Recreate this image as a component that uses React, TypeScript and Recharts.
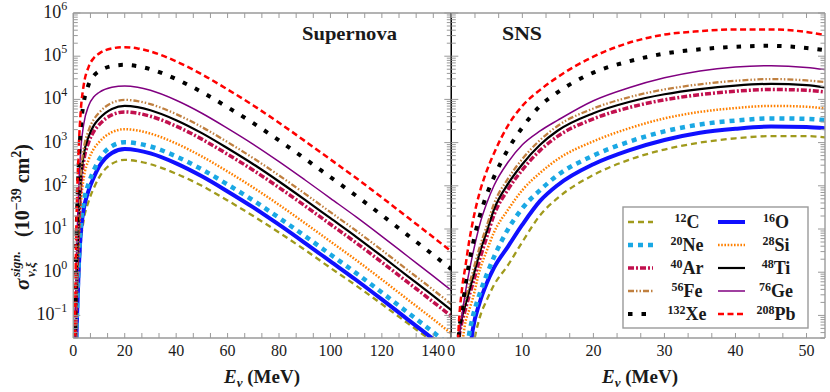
import React from "react";
import { LineChart, Line, XAxis, YAxis } from "recharts";

// ---------- Supernova panel: energies (MeV) and log10(sigma / 1e-39 cm^2) ----------
const SN_E = [0.5, 1, 1.5, 2, 3, 4, 6, 8, 10, 15, 20, 25, 30, 40, 50, 60, 70, 80, 90, 100, 110, 120, 130, 140, 147];
const SN_C = [-5.4, -2.4, -1.2, -0.35, 0.73, 1.19, 1.65, 1.95, 2.19, 2.51, 2.6, 2.57, 2.5, 2.28, 2.0, 1.66, 1.3, 0.92, 0.52, 0.1, -0.31, -0.74, -1.18, -1.62, -1.94];
const SN_O = [-5.15, -2.15, -0.95, -0.1, 0.98, 1.44, 1.9, 2.2, 2.44, 2.76, 2.85, 2.82, 2.75, 2.52, 2.22, 1.87, 1.5, 1.1, 0.68, 0.25, -0.18, -0.63, -1.09, -1.55, -1.88];
const SN_NE = [-4.99, -1.99, -0.79, 0.06, 1.14, 1.6, 2.06, 2.36, 2.6, 2.92, 3.01, 2.98, 2.91, 2.68, 2.38, 2.03, 1.66, 1.26, 0.84, 0.41, -0.02, -0.47, -0.93, -1.39, -1.72];
const SN_SI = [-4.69, -1.59, -0.29, 0.56, 1.66, 2.16, 2.61, 2.86, 3.01, 3.24, 3.31, 3.28, 3.21, 2.98, 2.68, 2.33, 1.96, 1.56, 1.14, 0.71, 0.28, -0.17, -0.63, -1.09, -1.42];
const SN_AR = [-4.29, -1.19, 0.11, 0.96, 2.06, 2.56, 3.01, 3.26, 3.41, 3.64, 3.71, 3.68, 3.61, 3.38, 3.08, 2.73, 2.36, 1.96, 1.54, 1.11, 0.68, 0.23, -0.23, -0.69, -1.02];
const SN_TI = [-4.15, -1.05, 0.25, 1.1, 2.2, 2.7, 3.15, 3.4, 3.55, 3.78, 3.85, 3.82, 3.75, 3.52, 3.22, 2.87, 2.5, 2.1, 1.68, 1.25, 0.82, 0.37, -0.09, -0.55, -0.88];
const SN_FE = [-4.01, -0.91, 0.39, 1.24, 2.34, 2.84, 3.29, 3.54, 3.69, 3.92, 3.99, 3.96, 3.89, 3.66, 3.36, 3.01, 2.64, 2.24, 1.82, 1.39, 0.96, 0.51, 0.05, -0.41, -0.74];
const SN_GE = [-3.69, -0.49, 0.91, 1.81, 2.91, 3.41, 3.86, 4.06, 4.16, 4.28, 4.31, 4.28, 4.21, 3.98, 3.68, 3.33, 2.96, 2.56, 2.14, 1.71, 1.28, 0.83, 0.37, -0.09, -0.42];
const SN_XE = [-3.2, 0.0, 1.4, 2.3, 3.4, 3.9, 4.35, 4.55, 4.65, 4.77, 4.8, 4.77, 4.7, 4.47, 4.17, 3.82, 3.45, 3.05, 2.63, 2.2, 1.77, 1.32, 0.86, 0.4, 0.07];
const SN_PB = [-2.79, 0.41, 1.81, 2.71, 3.81, 4.31, 4.76, 4.96, 5.06, 5.18, 5.21, 5.18, 5.11, 4.88, 4.58, 4.23, 3.86, 3.46, 3.04, 2.61, 2.18, 1.73, 1.27, 0.81, 0.48];

// ---------- SNS panel ----------
const SNS_E = [0.5, 1, 1.5, 2, 2.5, 3, 4, 5, 6, 8, 10, 12.5, 15, 20, 25, 30, 35, 40, 45, 50, 52.6];
const SNS_C = [-4, -3.9, -3.5, -3.0, -2.4, -1.8, -1.05, -0.64, -0.3, 0.17, 0.7, 1.32, 1.72, 2.25, 2.6, 2.84, 3.0, 3.1, 3.15, 3.15, 3.12];
const SNS_O = [-4, -3.7, -3.2, -2.6, -2.0, -1.35, -0.7, -0.25, 0.1, 0.6, 1.1, 1.65, 2.02, 2.5, 2.82, 3.06, 3.23, 3.32, 3.37, 3.36, 3.33];
const SNS_NE = [-4, -3.5, -2.8, -2.1, -1.45, -1.05, -0.5, -0.05, 0.35, 1.0, 1.48, 1.9, 2.25, 2.7, 3.02, 3.26, 3.42, 3.51, 3.56, 3.55, 3.52];
const SNS_SI = [-4, -2.4, -1.7, -1.15, -0.88, -0.62, 0.05, 0.5, 0.92, 1.45, 1.9, 2.3, 2.62, 3.03, 3.33, 3.56, 3.71, 3.8, 3.85, 3.83, 3.79];
const SNS_AR = [-4, -1.7, -1.15, -0.85, -0.55, -0.28, 0.3, 0.82, 1.32, 1.92, 2.37, 2.82, 3.15, 3.55, 3.81, 3.99, 4.11, 4.19, 4.23, 4.21, 4.17];
const SNS_TI = [-4, -1.6, -1.05, -0.75, -0.45, -0.15, 0.45, 0.95, 1.45, 2.05, 2.5, 2.95, 3.28, 3.68, 3.94, 4.12, 4.24, 4.32, 4.36, 4.33, 4.28];
const SNS_FE = [-4, -1.5, -0.95, -0.6, -0.3, 0.0, 0.58, 1.08, 1.58, 2.17, 2.62, 3.06, 3.39, 3.79, 4.05, 4.23, 4.35, 4.43, 4.47, 4.44, 4.4];
const SNS_GE = [-4, -1.7, -1.0, -0.45, 0.0, 0.4, 1.1, 1.6, 2.0, 2.55, 2.95, 3.27, 3.52, 3.97, 4.27, 4.5, 4.66, 4.75, 4.78, 4.74, 4.69];
const SNS_XE = [-4, -1.6, -0.9, -0.3, 0.2, 0.62, 1.3, 1.8, 2.2, 2.85, 3.35, 3.85, 4.17, 4.62, 4.88, 5.06, 5.16, 5.22, 5.24, 5.19, 5.14];
const SNS_PB = [-4, -1.4, -0.4, 0.15, 0.7, 1.15, 1.85, 2.35, 2.75, 3.4, 3.85, 4.22, 4.52, 4.99, 5.31, 5.5, 5.58, 5.62, 5.62, 5.56, 5.49];

// ---------- Axis ticks ----------
const Y_MAJOR = [0.1, 1, 10, 100, 1000, 1e4, 1e5, 1e6];
const Y_DECADES = [0.01, 0.1, 1, 10, 100, 1000, 1e4, 1e5];
const Y_MULT = [2, 3, 4, 5, 6, 7, 8, 9];
const SN_XTICKS = [0, 20, 40, 60, 80, 100, 120, 140];
const SNS_XTICKS = [0, 10, 20, 30, 40, 50];

const Y_DOMAIN: [number, number] = [0.03, 1e6];
const SN_DOMAIN: [number, number] = [0, 147];
const SNS_DOMAIN: [number, number] = [0, 52.6];

const SERIES = [
  { key: "C", mass: "12", sym: "C", color: "#a09a1c", width: 2.3, dash: "6 4", sn: SN_C, sns: SNS_C },
  { key: "O", mass: "16", sym: "O", color: "#1010ff", width: 4, dash: undefined, sn: SN_O, sns: SNS_O },
  { key: "Ne", mass: "20", sym: "Ne", color: "#1aa8e4", width: 4.5, dash: "5 5", sn: SN_NE, sns: SNS_NE },
  { key: "Si", mass: "28", sym: "Si", color: "#ff8000", width: 2.5, dash: "1.6 1.6", sn: SN_SI, sns: SNS_SI },
  { key: "Ar", mass: "40", sym: "Ar", color: "#c2104e", width: 3.5, dash: "6 2 2 2", sn: SN_AR, sns: SNS_AR },
  { key: "Ti", mass: "48", sym: "Ti", color: "#000000", width: 2.2, dash: undefined, sn: SN_TI, sns: SNS_TI },
  { key: "Fe", mass: "56", sym: "Fe", color: "#c08040", width: 2.3, dash: "6 2 1.5 2 1.5 2", sn: SN_FE, sns: SNS_FE },
  { key: "Ge", mass: "76", sym: "Ge", color: "#800080", width: 1.5, dash: undefined, sn: SN_GE, sns: SNS_GE },
  { key: "Xe", mass: "132", sym: "Xe", color: "#000000", width: 4, dash: "4.5 9", sn: SN_XE, sns: SNS_XE },
  { key: "Pb", mass: "208", sym: "Pb", color: "#ff0000", width: 2.5, dash: "6 3.5", sn: SN_PB, sns: SNS_PB },
];

const snData = SN_E.map((e, i) => {
  const row: any = { E: e };
  SERIES.forEach((s) => (row[s.key] = Math.pow(10, s.sn[i])));
  return row;
});
const snsData = SNS_E.map((e, i) => {
  const row: any = { E: e };
  SERIES.forEach((s) => (row[s.key] = Math.pow(10, s.sns[i])));
  return row;
});

const yTicks: number[] = [];
Y_DECADES.forEach((d) => Y_MULT.forEach((m) => yTicks.push(d * m)));
Y_MAJOR.forEach((v) => yTicks.push(v));
const yTickList = yTicks.filter((v) => v >= Y_DOMAIN[0] - 1e-9 && v <= Y_DOMAIN[1] * 1.0001).sort((a, b) => a - b);

function withThirds(majors: number[], maxV: number) {
  const out: number[] = [];
  for (let i = 0; i < majors.length; i++) {
    out.push(majors[i]);
    const step = majors.length > 1 ? majors[1] - majors[0] : 0;
    for (let k = 1; k <= 2; k++) {
      const v = majors[i] + (step * k) / 3;
      if (v <= maxV) out.push(v);
    }
  }
  return out;
}
const snXTicks = withThirds(SN_XTICKS, SN_DOMAIN[1]);
const snsXTicks = withThirds(SNS_XTICKS, SNS_DOMAIN[1]);

const SERIF = "Liberation Serif";
const GRAY = "#9a9a9a";
const INK = "#1a1a1a";

const isMajorLog = (v: number) => {
  const e = Math.log10(v);
  return Math.abs(e - Math.round(e)) < 1e-6;
};

const makeYTick = (dir: 1 | -1, labels: boolean) => (props: any) => {
  const { x, y, payload } = props;
  const v = payload.value;
  const major = isMajorLog(v);
  const len = major ? 7 : 4.5;
  const ex = Math.round(Math.log10(v));
  return (
    <g>
      <line x1={x} x2={x + dir * len} y1={y} y2={y} stroke={GRAY} strokeWidth={1} />
      {labels && major && (
        <text x={x - 6} y={y + 5} textAnchor="end" style={{ fontFamily: SERIF, fontSize: 18 }} fill={INK}>
          10
          <tspan dy={-8} style={{ fontSize: 12 }}>
            {ex < 0 ? "\u2212" + Math.abs(ex) : String(ex)}
          </tspan>
        </text>
      )}
    </g>
  );
};

const makeXTick = (majors: number[], top: boolean) => (props: any) => {
  const { x, y, payload } = props;
  const v = payload.value;
  const major = majors.some((m) => Math.abs(m - v) < 1e-6);
  return (
    <g>
      <line x1={x} x2={x} y1={y} y2={top ? y + 5 : y - 5} stroke={GRAY} strokeWidth={1} />
      {!top && major && (
        <text x={x} y={y + 18} textAnchor="middle" style={{ fontFamily: SERIF, fontSize: 16 }} fill={INK}>
          {Math.round(v)}
        </text>
      )}
    </g>
  );
};

function renderLines() {
  return SERIES.map((s) => (
    <Line
      key={s.key}
      dataKey={s.key}
      type="monotone"
      stroke={s.color}
      strokeWidth={s.width}
      strokeDasharray={s.dash}
      dot={false}
      activeDot={false}
      isAnimationActive={false}
      xAxisId="b"
      yAxisId="l"
    />
  ));
}

function Panel(props: {
  data: any[];
  domain: [number, number];
  xTicks: number[];
  majors: number[];
  margin: any;
  leftWidth: number;
  leftLabels: boolean;
  leftLine: any;
  rightLine: any;
}) {
  const { data, domain, xTicks, majors, margin, leftWidth, leftLabels, leftLine, rightLine } = props;
  return (
    <LineChart width={830} height={392} data={data} margin={margin} style={{ position: "absolute", left: 0, top: 0 }}>
      <XAxis
        xAxisId="b"
        dataKey="E"
        type="number"
        domain={domain}
        allowDataOverflow
        ticks={xTicks}
        interval={0}
        tickSize={0}
        tickMargin={0}
        height={1}
        axisLine={{ stroke: GRAY, strokeWidth: 1.4 }}
        tickLine={false}
        tick={makeXTick(majors, false)}
      />
      <XAxis
        xAxisId="t"
        orientation="top"
        dataKey="E"
        type="number"
        domain={domain}
        allowDataOverflow
        ticks={xTicks}
        interval={0}
        tickSize={0}
        tickMargin={0}
        height={1}
        axisLine={{ stroke: GRAY, strokeWidth: 1.4 }}
        tickLine={false}
        tick={makeXTick(majors, true)}
      />
      <YAxis
        yAxisId="l"
        scale="log"
        type="number"
        domain={Y_DOMAIN}
        allowDataOverflow
        ticks={yTickList}
        interval={0}
        tickSize={0}
        tickMargin={0}
        width={leftWidth}
        axisLine={leftLine}
        tickLine={false}
        tick={makeYTick(1, leftLabels)}
      />
      <YAxis
        yAxisId="r"
        orientation="right"
        scale="log"
        type="number"
        domain={Y_DOMAIN}
        allowDataOverflow
        ticks={yTickList}
        interval={0}
        tickSize={0}
        tickMargin={0}
        width={1}
        axisLine={rightLine}
        tickLine={false}
        tick={makeYTick(-1, false)}
      />
      {renderLines()}
    </LineChart>
  );
}

function LegendSample({ s, x1, x2, y }: any) {
  return <line x1={x1} x2={x2} y1={y} y2={y} stroke={s.color} strokeWidth={s.width} strokeDasharray={s.dash} />;
}

const boldText = { fontFamily: SERIF, fontWeight: 700 } as const;

export default function App() {
  const rows = [0, 1, 2, 3, 4];
  return (
    <div style={{ position: "absolute", left: 0, top: 0, width: 830, height: 392, background: "#fff" }}>
      <Panel
        data={snData}
        domain={SN_DOMAIN}
        xTicks={snXTicks}
        majors={SN_XTICKS}
        margin={{ top: 12, bottom: 53, left: 13.3, right: 377.7 }}
        leftWidth={60}
        leftLabels={true}
        leftLine={{ stroke: GRAY, strokeWidth: 1.4 }}
        rightLine={{ stroke: "#000", strokeWidth: 1.2 }}
      />
      <Panel
        data={snsData}
        domain={SNS_DOMAIN}
        xTicks={snsXTicks}
        majors={SNS_XTICKS}
        margin={{ top: 12, bottom: 53, left: 450.3, right: 4 }}
        leftWidth={1}
        leftLabels={false}
        leftLine={{ stroke: "#000", strokeWidth: 1.2 }}
        rightLine={{ stroke: GRAY, strokeWidth: 1.4 }}
      />
      <svg width={830} height={392} style={{ position: "absolute", left: 0, top: 0 }}>
        {/* panel labels */}
        <text x={302} y={40} style={{ ...boldText, fontSize: 19 }} textLength={95} lengthAdjust="spacingAndGlyphs" fill={INK}>
          Supernova
        </text>
        <text x={502} y={40} style={{ ...boldText, fontSize: 19 }} textLength={40} lengthAdjust="spacingAndGlyphs" fill={INK}>
          SNS
        </text>
        {/* x axis titles */}
        {[262, 640].map((cx) => (
          <text key={cx} x={cx} y={383} textAnchor="middle" style={{ ...boldText, fontSize: 19 }} fill={INK}>
            <tspan style={{ fontStyle: "italic" }}>E</tspan>
            <tspan dy={4} style={{ fontSize: 13, fontStyle: "italic" }}>ν</tspan>
            <tspan dy={-4}> (MeV)</tspan>
          </text>
        ))}
        {/* y axis title */}
        <g transform="translate(29,192) rotate(-90)">
          <text x={-98} y={0} style={{ ...boldText, fontStyle: "italic", fontSize: 21 }} fill={INK}>
            σ
          </text>
          <text x={-85} y={-9} style={{ ...boldText, fontStyle: "italic", fontSize: 13 }} fill={INK}>
            sign.
          </text>
          <text x={-85} y={6} style={{ ...boldText, fontStyle: "italic", fontSize: 13 }} fill={INK}>
            ν,ξ
          </text>
          <text x={-45} y={0} style={{ ...boldText, fontSize: 20 }} fill={INK}>
            (10
            <tspan dy={-8} style={{ fontSize: 14 }}>
              −39
            </tspan>
            <tspan dy={8}> cm</tspan>
            <tspan dy={-8} style={{ fontSize: 14 }}>
              2
            </tspan>
            <tspan dy={8}>)</tspan>
          </text>
        </g>
        {/* legend */}
        <rect x={623} y={207} width={185} height={121} fill="#fff" stroke={GRAY} strokeWidth={1.4} />
        {rows.map((r) =>
          [0, 1].map((c) => {
            const s = SERIES[r * 2 + c];
            const y = 222 + r * 23;
            const x1 = c === 0 ? 628 : 718;
            const x2 = c === 0 ? 653 : 745;
            const tx = c === 0 ? 687 : 776;
            return (
              <g key={s.key}>
                <LegendSample s={s} x1={x1} x2={x2} y={y} />
                <text x={tx} y={y + 6} textAnchor="middle" style={{ ...boldText, fontSize: 18 }} fill={INK}>
                  <tspan dy={-6} style={{ fontSize: 12 }}>
                    {s.mass}
                  </tspan>
                  <tspan dy={6}>{s.sym}</tspan>
                </text>
              </g>
            );
          })
        )}
      </svg>
    </div>
  );
}
